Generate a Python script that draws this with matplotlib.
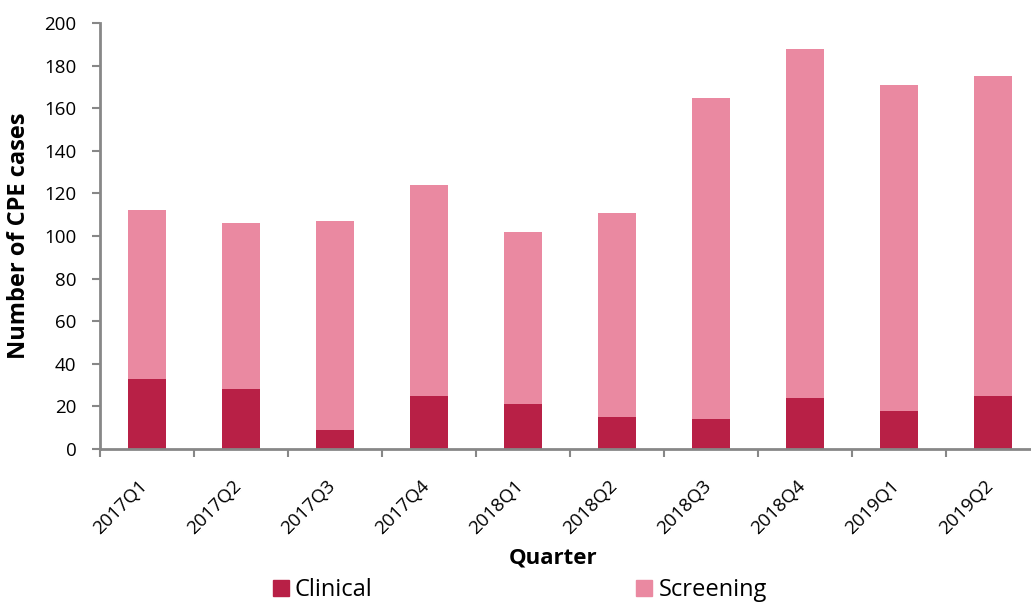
import matplotlib.pyplot as plt
from matplotlib.lines import Line2D
import numpy as np

plt.rcParams['font.family'] = ['Open Sans', 'DejaVu Sans']

# CPE cases per quarter, split by sample type
quarters = ['2017Q1', '2017Q2', '2017Q3', '2017Q4', '2018Q1',
            '2018Q2', '2018Q3', '2018Q4', '2019Q1', '2019Q2']
clinical = [33, 28, 9, 25, 21, 15, 14, 24, 18, 25]
screening = [79, 78, 98, 99, 81, 96, 151, 164, 153, 150]

c_clin = '#B82046'
c_scr = '#EA89A1'
c_axis = '#878787'

W, H = 1031, 606
fig = plt.figure(figsize=(W / 100, H / 100), dpi=100)
ax = fig.add_axes([100 / W, (H - 449) / H, 940 / W, 426 / H])

x = np.arange(len(quarters))
ax.bar(x, clinical, width=0.4, color=c_clin, label='Clinical')
ax.bar(x, screening, width=0.4, bottom=clinical, color=c_scr, label='Screening')

ax.set_xlim(-0.5, len(quarters) - 0.5)
ax.set_ylim(0, 200)
ax.set_yticks(range(0, 201, 20))

# category boundaries get the tick marks, labels sit under the bars
# (nudged a little left so the rotated text ends under the bar)
ax.set_xticks(np.arange(-0.5, len(quarters), 1.0))
ax.set_xticklabels([])
ax.set_xticks(x - 0.09, minor=True)
ax.set_xticklabels(quarters, minor=True, rotation=45, ha='right',
                   rotation_mode='anchor', fontsize=13.5)
ax.tick_params(axis='x', which='minor', length=0, pad=20)
ax.tick_params(axis='x', which='major', length=6, width=1.5, color=c_axis, direction='out')
ax.tick_params(axis='y', length=6, width=1.5, color=c_axis, labelsize=13.5, pad=11)

for side in ['top', 'right']:
    ax.spines[side].set_visible(False)
for side in ['left', 'bottom']:
    ax.spines[side].set_color(c_axis)
    ax.spines[side].set_linewidth(2)

fig.text(19 / W, 1 - 236 / H, 'Number of CPE cases', rotation=90, ha='center', va='center',
         fontsize=17, fontweight='bold')
fig.text(553 / W, 1 - 558 / H, 'Quarter', ha='center', va='center',
         fontsize=16, fontweight='bold')

handles = [Line2D([], [], marker='s', linestyle='none', markersize=11, color=c_clin),
           Line2D([], [], marker='s', linestyle='none', markersize=11, color=c_scr)]
fig.legend(handles, ['Clinical', 'Screening'], loc='center', ncol=2,
           bbox_to_anchor=(519 / W, 1 - 590 / H), frameon=False, fontsize=17,
           handletextpad=0.2, columnspacing=11.1, handlelength=0.8)

plt.savefig('out.png', dpi=100, facecolor='white')
plt.close()
